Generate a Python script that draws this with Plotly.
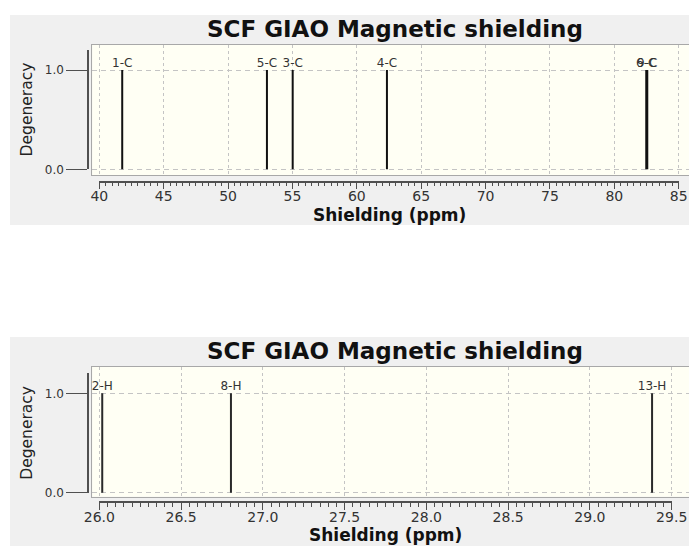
import plotly.graph_objects as go

# ---------------- data ----------------
c_labels = ["1-C", "5-C", "3-C", "4-C", "6-C", "9-C"]
c_shielding = [41.78, 53.02, 55.02, 62.34, 82.48, 82.56]
c_degeneracy = [1, 1, 1, 1, 1, 1]

h_labels = ["2-H", "8-H", "13-H"]
h_shielding = [26.018, 26.805, 29.38]
h_degeneracy = [1, 1, 1]

c_tickvals = [40, 45, 50, 55, 60, 65, 70, 75, 80, 85]
c_ticktext = ["40", "45", "50", "55", "60", "65", "70", "75", "80", "85"]
c_minor_step = 0.5

h_tickvals = [26.0, 26.5, 27.0, 27.5, 28.0, 28.5, 29.0, 29.5]
h_ticktext = ["26.0", "26.5", "27.0", "27.5", "28.0", "28.5", "29.0", "29.5"]
h_minor_step = 0.05

deg_tickvals = [0.0, 1.0]
deg_ticktext = ["0.0", "1.0"]
deg_axis_max = 1.2

title_text = "SCF GIAO Magnetic shielding"
x_title = "Shielding (ppm)"
y_title = "Degeneracy"

# ---------------- layout geometry (pixels) ----------------
W, H = 689, 546
def fx(px):
    return px / W
def fy(py):
    return 1 - py / H

FONT = "DejaVu Sans"
PANEL = "#f0f0f0"
CREAM = "#fffff4"
GRID = "#c4c4c4"
RULER = "#505050"
TXT = "#333333"

charts = [
    dict(labels=c_labels, shield=c_shielding, deg=c_degeneracy,
         tickvals=c_tickvals, ticktext=c_ticktext, minor=c_minor_step,
         panel_top=15, panel_bot=225, plot_top=45, plot_bot=175,
         first_tick_px=99.3, last_tick_px=678.7, y0_px=169.3, y1_px=70.0,
         ruler_y=181.7, title_y=29, xtitle_y=215, line_color="#111111"),
    dict(labels=h_labels, shield=h_shielding, deg=h_degeneracy,
         tickvals=h_tickvals, ticktext=h_ticktext, minor=h_minor_step,
         panel_top=337, panel_bot=546, plot_top=366.7, plot_bot=496.7,
         first_tick_px=99.3, last_tick_px=671.7, y0_px=492.7, y1_px=393.3,
         ruler_y=502.0, title_y=351, xtitle_y=535, line_color="#2a2a2a"),
]
PLOT_LEFT = 92.3
YRULER_X = 88.3

fig = go.Figure()
shapes, annotations = [], []
layout_axes = {}

for i, ch in enumerate(charts):
    n_main = 2 * i + 1
    n_rul = 2 * i + 2
    xm = "x" if n_main == 1 else f"x{n_main}"
    ym = "y" if n_main == 1 else f"y{n_main}"
    xr, yr = f"x{n_rul}", f"y{n_rul}"
    kxm = "xaxis" if n_main == 1 else f"xaxis{n_main}"
    kym = "yaxis" if n_main == 1 else f"yaxis{n_main}"
    kxr, kyr = f"xaxis{n_rul}", f"yaxis{n_rul}"

    tv = ch["tickvals"]
    xppu = (ch["last_tick_px"] - ch["first_tick_px"]) / (tv[-1] - tv[0])
    xv = lambda px: tv[0] + (px - ch["first_tick_px"]) / xppu
    yppu = ch["y0_px"] - ch["y1_px"]
    yv = lambda py: (ch["y0_px"] - py) / yppu

    # panels
    shapes.append(dict(type="rect", xref="paper", yref="paper", layer="below",
                       x0=fx(10), x1=1, y0=fy(ch["panel_bot"]), y1=fy(ch["panel_top"]),
                       fillcolor=PANEL, line=dict(width=0)))
    shapes.append(dict(type="rect", xref="paper", yref="paper", layer="below",
                       x0=fx(PLOT_LEFT), x1=1, y0=fy(ch["plot_bot"]), y1=fy(ch["plot_top"]),
                       fillcolor=CREAM, line=dict(width=0)))

    # sticks
    xs, ys = [], []
    for s, d in zip(ch["shield"], ch["deg"]):
        xs += [s, s, None]
        ys += [0, d, None]
    fig.add_trace(go.Scatter(x=xs, y=ys, mode="lines", xaxis=xm, yaxis=ym,
                             line=dict(color=ch["line_color"], width=2),
                             showlegend=False, hoverinfo="skip"))
    fig.add_trace(go.Scatter(x=ch["shield"], y=ch["deg"], mode="text", text=ch["labels"],
                             textposition="top center", xaxis=xm, yaxis=ym,
                             textfont=dict(family=FONT, size=12, color=TXT),
                             cliponaxis=False, showlegend=False, hoverinfo="skip"))
    # dummy for ruler subplot
    fig.add_trace(go.Scatter(x=[], y=[], xaxis=xr, yaxis=yr, showlegend=False,
                             hoverinfo="skip"))

    layout_axes[kxm] = dict(domain=[fx(PLOT_LEFT), 1], range=[xv(PLOT_LEFT), xv(W)],
                            anchor=ym, showline=True, mirror=True, linecolor="#a8a8a8",
                            linewidth=1, ticks="", showticklabels=False,
                            tickmode="array", tickvals=tv, showgrid=True, gridcolor=GRID,
                            griddash="3px,3px", gridwidth=1, zeroline=False,
                            fixedrange=True, automargin=False)
    layout_axes[kym] = dict(domain=[fy(ch["plot_bot"]), fy(ch["plot_top"])],
                            range=[yv(ch["plot_bot"]), yv(ch["plot_top"])],
                            anchor=xm, showline=True, mirror=False, linecolor="#a8a8a8",
                            linewidth=1, ticks="", showticklabels=False,
                            tickmode="array", tickvals=deg_tickvals, showgrid=True,
                            gridcolor=GRID, griddash="5px,4px", gridwidth=1,
                            zeroline=False, fixedrange=True, automargin=False)
    layout_axes[kxr] = dict(domain=[fx(ch["first_tick_px"]), fx(ch["last_tick_px"])],
                            range=[tv[0], tv[-1]], anchor="free", position=fy(ch["ruler_y"]),
                            showline=True, linecolor=RULER, linewidth=1.5,
                            ticks="outside", ticklen=7, tickwidth=1, tickcolor=RULER,
                            tickmode="array", tickvals=tv, ticktext=ch["ticktext"],
                            tickfont=dict(family=FONT, size=14, color=TXT),
                            ticklabelstandoff=-5,
                            minor=dict(ticks="outside", ticklen=4, tickwidth=1,
                                       tickcolor=RULER, tickmode="linear",
                                       tick0=tv[0], dtick=ch["minor"], showgrid=False),
                            showgrid=False, zeroline=False, fixedrange=True,
                            automargin=False)
    ytop_px = ch["y0_px"] - deg_axis_max * yppu
    layout_axes[kyr] = dict(domain=[fy(ch["y0_px"]), fy(ytop_px)],
                            range=[0, deg_axis_max], anchor="free", position=fx(YRULER_X),
                            side="left", showline=True, linecolor=RULER, linewidth=2,
                            ticks="outside", ticklen=21, tickwidth=1, tickcolor=RULER,
                            tickmode="array", tickvals=deg_tickvals, ticktext=deg_ticktext,
                            tickfont=dict(family=FONT, size=12, color=TXT),
                            showgrid=False, zeroline=False, fixedrange=True,
                            automargin=False)

    annotations.append(dict(text=f"<b>{title_text}</b>", xref="paper", yref="paper",
                            x=fx(394.5), y=fy(ch["title_y"]), xanchor="center",
                            yanchor="middle", showarrow=False,
                            font=dict(family=FONT, size=23, color="#111111")))
    annotations.append(dict(text=f"<b>{x_title}</b>", xref="paper", yref="paper",
                            x=fx((ch["first_tick_px"] + ch["last_tick_px"]) / 2),
                            y=fy(ch["xtitle_y"]), xanchor="center", yanchor="middle",
                            showarrow=False, font=dict(family=FONT, size=17, color="#111111")))
    annotations.append(dict(text=y_title, xref="paper", yref="paper", textangle=-90,
                            x=fx(26.7), y=fy((ch["y0_px"] + ytop_px) / 2),
                            xanchor="center", yanchor="middle", showarrow=False,
                            font=dict(family=FONT, size=15.5, color="#222222")))

fig.update_layout(width=W, height=H,
                  margin=dict(l=0, r=0, t=0, b=0, pad=0, autoexpand=False),
                  paper_bgcolor="white", plot_bgcolor="rgba(0,0,0,0)",
                  showlegend=False, shapes=shapes, annotations=annotations,
                  **layout_axes)

fig.write_html("out.html", config={"displayModeBar": False})
